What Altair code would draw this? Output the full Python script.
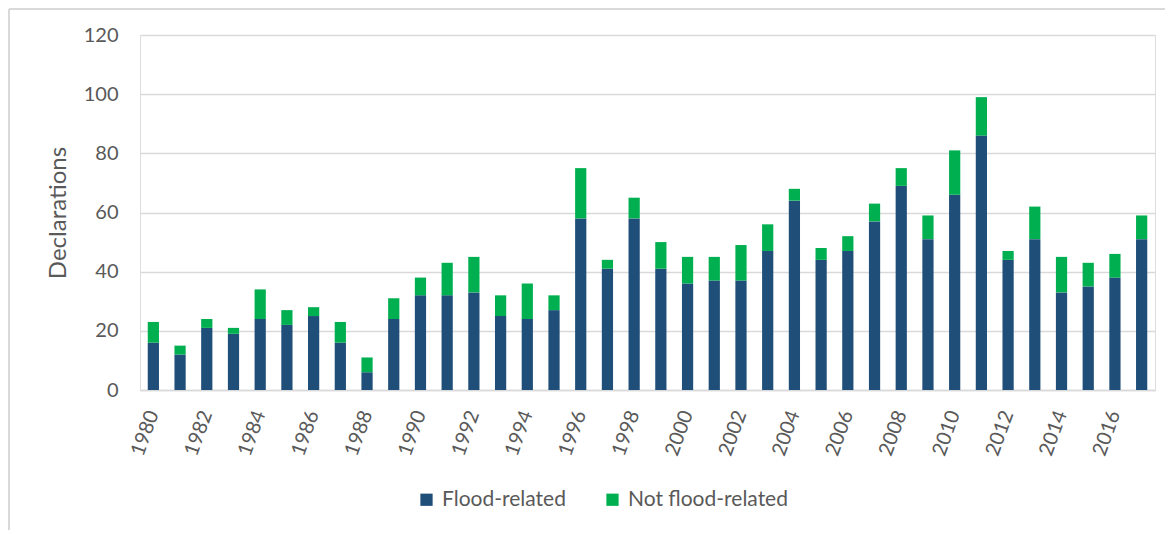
import altair as alt
import pandas as pd

years = list(range(1980, 2018))
flood = [16, 12, 21, 19, 24, 22, 25, 16, 6, 24, 32, 32, 33, 25, 24, 27, 58, 41, 58, 41,
         36, 37, 37, 47, 64, 44, 47, 57, 69, 51, 66, 86, 44, 51, 33, 35, 38, 51]
total = [23, 15, 24, 21, 34, 27, 28, 23, 11, 31, 38, 43, 45, 32, 36, 32, 75, 44, 65, 50,
         45, 45, 49, 56, 68, 48, 52, 63, 75, 59, 81, 99, 47, 62, 45, 43, 46, 59]
not_flood = [t - f for t, f in zip(total, flood)]
series = ["Flood-related", "Not flood-related"]
colors = ["#1F4E79", "#00B050"]

rows = []
for y, f, n in zip(years, flood, not_flood):
    rows.append({"Year": y, "Series": series[0], "Value": f, "ord": 0})
    rows.append({"Year": y, "Series": series[1], "Value": n, "ord": 1})
df = pd.DataFrame(rows)

FONT = "Lato"
GREY = "#595959"

bars = alt.Chart(df).mark_bar().encode(
    x=alt.X("Year:O",
            scale=alt.Scale(paddingInner=0.58, paddingOuter=0.29),
            axis=alt.Axis(title=None, labelAngle=-70, labelFontSize=20,
                          labelExpr="datum.value % 2 == 0 ? datum.label : ''",
                          ticks=False, domain=True, domainColor="#d9d9d9",
                          domainWidth=1.5, labelPadding=21, labelColor=GREY,
                          labelFont=FONT)),
    y=alt.Y("Value:Q", stack="zero",
            scale=alt.Scale(domain=[0, 120]),
            axis=alt.Axis(title="Declarations", values=[0, 20, 40, 60, 80, 100, 120],
                          grid=True, gridColor="#d9d9d9", gridWidth=1.5,
                          domain=False, ticks=False, labelFontSize=20,
                          labelColor=GREY, labelFont=FONT, labelPadding=22,
                          titleFontSize=24, titleFontWeight="normal",
                          titleColor=GREY, titleFont=FONT, titlePadding=13)),
    color=alt.Color("Series:N",
                    scale=alt.Scale(domain=series, range=colors),
                    legend=alt.Legend(title=None, orient="none", direction="horizontal",
                                      legendX=276, legendY=454, symbolType="square",
                                      symbolSize=150, symbolStrokeWidth=0,
                                      labelFontSize=21, labelColor=GREY,
                                      labelFont=FONT, columnPadding=36,
                                      labelOffset=5)),
    order=alt.Order("ord:Q", sort="ascending"),
)

frame = pd.DataFrame({"k": [0]})
left_border = alt.Chart(frame).mark_rule(color="#d9d9d9", strokeWidth=2).encode(
    x=alt.value(-131), y=alt.value(-26), y2=alt.value(520))
top_border = alt.Chart(frame).mark_rule(color="#d9d9d9", strokeWidth=2).encode(
    x=alt.value(-131), x2=alt.value(1040), y=alt.value(-26))

chart = alt.layer(left_border, top_border, bars).properties(
    width=1015, height=355,
    autosize=alt.AutoSizeParams(type="none"),
    padding={"left": 132, "top": 27, "right": 10, "bottom": 140},
).configure_view(stroke=None).configure(background="white")

chart.save("out.html", embed_options={"renderer": "svg", "actions": False})
